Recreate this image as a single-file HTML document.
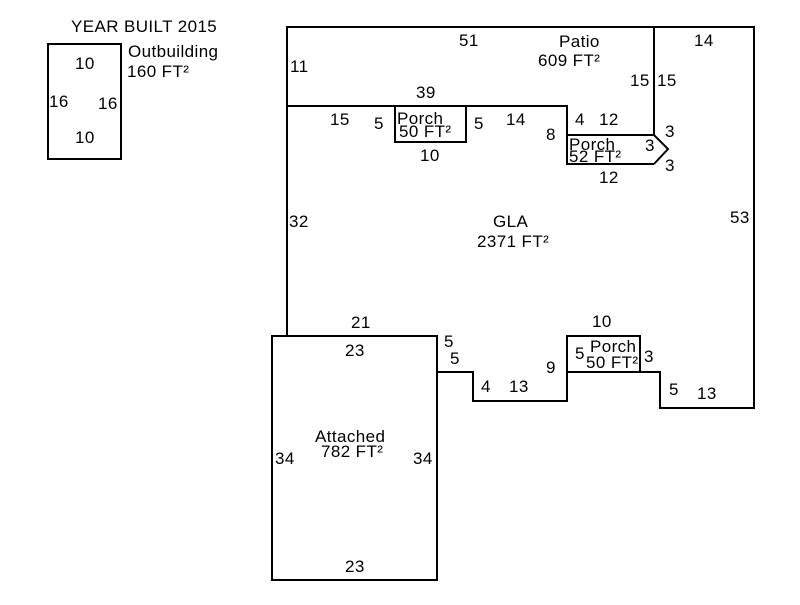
<!DOCTYPE html>
<html><head><style>
body{margin:0;background:#fff}
svg text{font-family:"Liberation Sans",Arial,sans-serif;font-size:17px;letter-spacing:0.4px;fill:#000}
</style></head><body>
<svg width="800" height="600" xmlns="http://www.w3.org/2000/svg">
<g fill="none" stroke="#000" stroke-width="2">
<rect x="48" y="44" width="73" height="115"/>
<polyline points="287,336 287,27 754,27 754,408 660,408 660,372 640,372 640,336 567,336 567,372 567,401 473,401 473,372 437,372"/>
<polyline points="287,106 567,106 567,164 654,164"/>
<line x1="654" y1="27" x2="654" y2="135"/>
<rect x="395" y="106" width="71" height="36"/>
<polyline points="567,135 654,135 668,149 654,164"/>
<line x1="567" y1="372" x2="660" y2="372"/>
<rect x="272" y="336" width="165" height="244"/>
</g>
<text x="71" y="32">YEAR BUILT 2015</text>
<text x="128" y="57">Outbuilding</text>
<text x="127" y="77">160 FT²</text>
<text x="75" y="69">10</text>
<text x="75" y="143">10</text>
<text x="49" y="107">16</text>
<text x="98" y="109">16</text>
<text x="459" y="46">51</text>
<text x="559" y="47">Patio</text>
<text x="538" y="66">609 FT²</text>
<text x="694" y="46">14</text>
<text x="290" y="72">11</text>
<text x="630" y="86">15</text>
<text x="657" y="86">15</text>
<text x="416" y="98">39</text>
<text x="330" y="125">15</text>
<text x="374" y="129">5</text>
<text x="397" y="124">Porch</text>
<text x="399" y="137">50 FT²</text>
<text x="474" y="129">5</text>
<text x="506" y="125">14</text>
<text x="420" y="161">10</text>
<text x="546" y="140">8</text>
<text x="575" y="125">4</text>
<text x="599" y="125">12</text>
<text x="665" y="137">3</text>
<text x="569" y="150">Porch</text>
<text x="569" y="162">52 FT²</text>
<text x="645" y="151">3</text>
<text x="665" y="171">3</text>
<text x="599" y="183">12</text>
<text x="289" y="227">32</text>
<text x="493" y="227">GLA</text>
<text x="477" y="247">2371 FT²</text>
<text x="730" y="223">53</text>
<text x="351" y="328">21</text>
<text x="345" y="356">23</text>
<text x="444" y="347">5</text>
<text x="450" y="364">5</text>
<text x="481" y="392">4</text>
<text x="509" y="392">13</text>
<text x="546" y="373">9</text>
<text x="592" y="327">10</text>
<text x="575" y="359">5</text>
<text x="590" y="352">Porch</text>
<text x="586" y="368">50 FT²</text>
<text x="644" y="362">3</text>
<text x="669" y="395">5</text>
<text x="697" y="399">13</text>
<text x="315" y="442">Attached</text>
<text x="321" y="457">782 FT²</text>
<text x="275" y="464">34</text>
<text x="413" y="464">34</text>
<text x="345" y="572">23</text>
</svg>
</body></html>
